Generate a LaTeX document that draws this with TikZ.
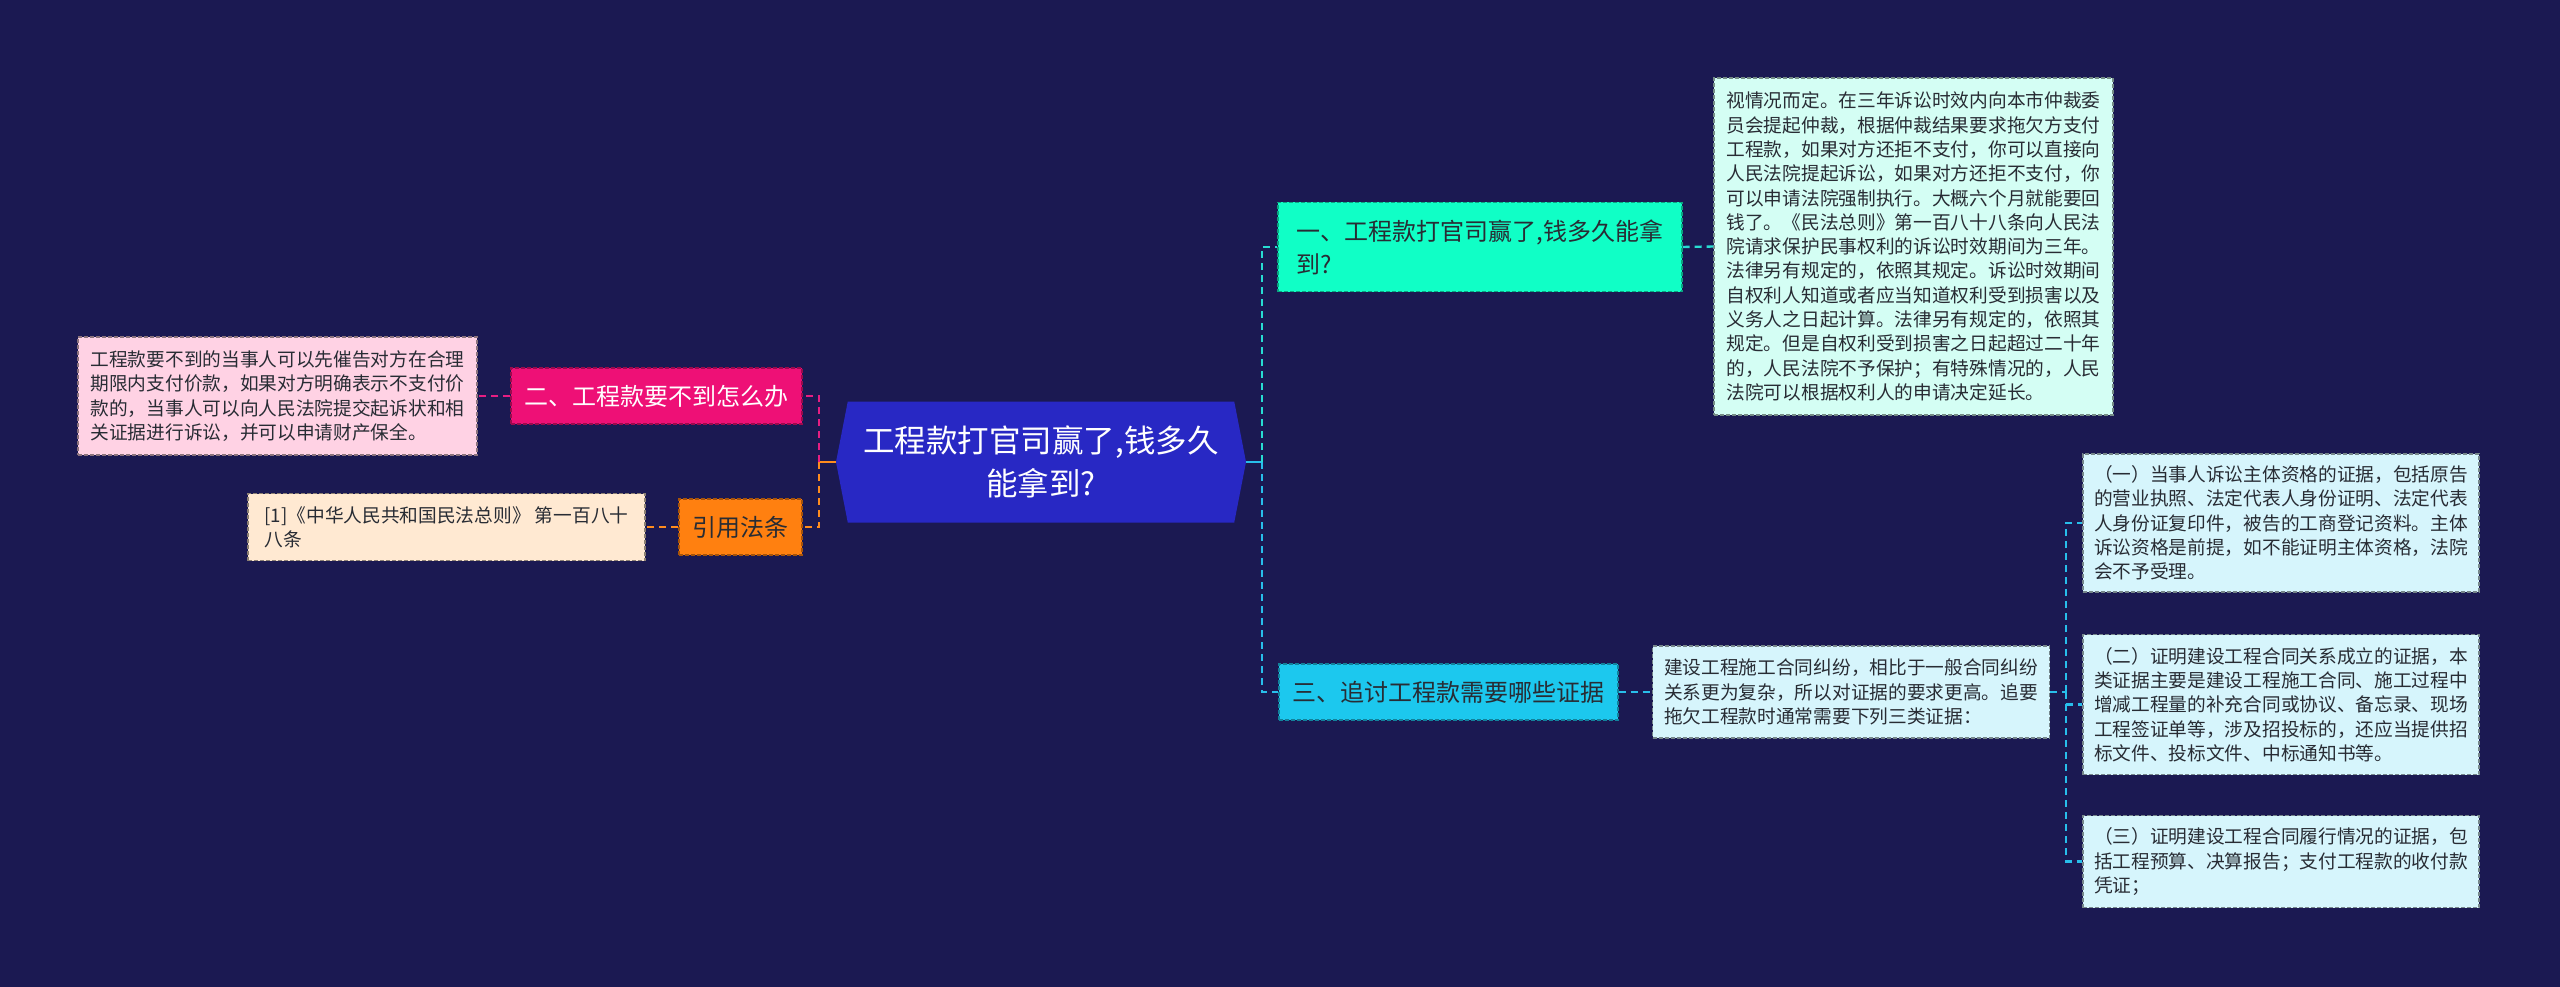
\documentclass[tikz,border=0pt]{standalone}
\usepackage{fontspec}
\setmainfont{Noto Sans CJK SC}
\usepackage{xcolor}
\usetikzlibrary{positioning,shapes.symbols}

\definecolor{bgnavy}{RGB}{27,25,82}
\definecolor{rootblue}{RGB}{40,40,196}
\definecolor{aqua}{RGB}{16,255,198}
\definecolor{sky}{RGB}{28,200,238}
\definecolor{rose}{RGB}{238,16,118}
\definecolor{amber}{RGB}{255,128,16}
\definecolor{mint}{RGB}{212,254,244}
\definecolor{ice}{RGB}{214,245,252}
\definecolor{blush}{RGB}{255,210,228}
\definecolor{peach}{RGB}{255,233,210}
\definecolor{leafink}{RGB}{40,44,52}
\definecolor{aqualine}{RGB}{40,220,210}
\definecolor{skyline}{RGB}{40,190,235}
\definecolor{roseline}{RGB}{230,30,130}
\definecolor{amberline}{RGB}{255,140,30}

\begin{document}
\begin{tikzpicture}[
			x=1pt, y=-1pt,
			every node/.style={
				align=left,
				inner sep=0pt,
				text=leafink
			},
			leaf/.style={
				fill=#1,
				draw=#1!55!black,
				line width=1.1pt,
				dash pattern=on 4pt off 2pt,
				minimum width=397pt,
				font=\fontsize{18.7pt}{24.3pt}\selectfont
			},
			topic/.style={
				fill=#1,
				draw=#1!65!black,
				line width=1.1pt,
				dash pattern=on 4pt off 2pt,
				minimum height=56pt,
				font=\fontsize{24pt}{33pt}\selectfont
			},
			link/.style={draw=#1, line width=2.4pt, dash pattern=on 7pt off 5pt},
			stub/.style={draw=#1, line width=2.4pt}
			]
			
			% Page background
			\fill[bgnavy] (0,0) rectangle (2560,987);
			
			% Central topic
			\node[shape=signal, signal to=west and east, signal pointer angle=158,
				fill=rootblue, minimum width=410pt, minimum height=121pt,
				align=center, text=white,
				font=\fontsize{31.5pt}{43pt}\selectfont] (root) at (1041,462)
				{工程款打官司赢了,钱多久\\能拿到?};
			
			% Right side: first and third topics
			\node[topic=aqua, minimum width=404pt, minimum height=89pt] (q1) at (1480,247)
				{一、工程款打官司赢了,钱多久能拿\\到?};
			\node[topic=sky, minimum width=339pt] (q3) at (1448.5,692)
				{三、追讨工程款需要哪些证据};
			
			% Right side: answers
			\node[leaf=mint, minimum width=399pt, minimum height=337pt] (a1) at (1913.5,246.5)
				{视情况而定。在三年诉讼时效内向本市仲裁委\\
				员会提起仲裁，根据仲裁结果要求拖欠方支付\\
				工程款，如果对方还拒不支付，你可以直接向\\
				人民法院提起诉讼，如果对方还拒不支付，你\\
				可以申请法院强制执行。大概六个月就能要回\\
				钱了。《民法总则》第一百八十八条向人民法\\
				院请求保护民事权利的诉讼时效期间为三年。\\
				法律另有规定的，依照其规定。诉讼时效期间\\
				自权利人知道或者应当知道权利受到损害以及\\
				义务人之日起计算。法律另有规定的，依照其\\
				规定。但是自权利受到损害之日起超过二十年\\
				的，人民法院不予保护；有特殊情况的，人民\\
				法院可以根据权利人的申请决定延长。};
			\node[leaf=ice, minimum height=92pt] (a3) at (1851,692)
				{建设工程施工合同纠纷，相比于一般合同纠纷\\
				关系更为复杂，所以对证据的要求更高。追要\\
				拖欠工程款时通常需要下列三类证据：};
			
			% Right side: three kinds of evidence
			\node[leaf=ice, minimum width=396pt, minimum height=138pt] (e1) at (2281,523)
				{（一）当事人诉讼主体资格的证据，包括原告\\
				的营业执照、法定代表人身份证明、法定代表\\
				人身份证复印件，被告的工商登记资料。主体\\
				诉讼资格是前提，如不能证明主体资格，法院\\
				会不予受理。};
			\node[leaf=ice, minimum width=396pt, minimum height=140pt] (e2) at (2281,704.5)
				{（二）证明建设工程合同关系成立的证据，本\\
				类证据主要是建设工程施工合同、施工过程中\\
				增减工程量的补充合同或协议、备忘录、现场\\
				工程签证单等，涉及招投标的，还应当提供招\\
				标文件、投标文件、中标通知书等。};
			\node[leaf=ice, minimum width=396pt, minimum height=92pt] (e3) at (2281,861.5)
				{（三）证明建设工程合同履行情况的证据，包\\
				括工程预算、决算报告；支付工程款的收付款\\
				凭证；};
			
			% Left side: second topic and citation
			\node[topic=rose, minimum width=291pt, text=white] (q2) at (656.5,396)
				{二、工程款要不到怎么办};
			\node[topic=amber, minimum width=123pt] (ref) at (740.5,527)
				{引用法条};
			\node[leaf=blush, minimum width=399pt, minimum height=118pt] (a2) at (277.5,396)
				{工程款要不到的当事人可以先催告对方在合理\\
				期限内支付价款，如果对方明确表示不支付价\\
				款的，当事人可以向人民法院提交起诉状和相\\
				关证据进行诉讼，并可以申请财产保全。};
			\node[leaf=peach, minimum height=67pt] (r1) at (446.5,527)
				{[1]《中华人民共和国民法总则》 第一百八十\\
				八条};
			
			% Junctions
			\coordinate (rj) at (1262,462);
			\coordinate (lj) at (819,462);
			\coordinate (ej) at (2066,692);
			
			% Connectors on the right
			\draw[stub=skyline] (root.east) -- (rj);
			\draw[link=aqualine] (rj) |- (q1.west);
			\draw[link=skyline] (rj) |- (q3.west);
			\draw[link=aqualine] (q1.east) -- (a1.west);
			\draw[link=skyline] (q3.east) -- (a3.west);
			\draw[link=skyline] (a3.east) -- (ej);
			\draw[link=skyline] (ej) |- (e1.west);
			\draw[link=skyline] (ej) |- (e2.west);
			\draw[link=skyline] (ej) |- (e3.west);
			
			% Connectors on the left
			\draw[stub=amberline] (root.west) -- (lj);
			\draw[link=roseline] (lj) |- (q2.east);
			\draw[link=amberline] (lj) |- (ref.east);
			\draw[link=roseline] (q2.west) -- (a2.east);
			\draw[link=amberline] (ref.west) -- (r1.east);
			
		\end{tikzpicture}
\end{document}
